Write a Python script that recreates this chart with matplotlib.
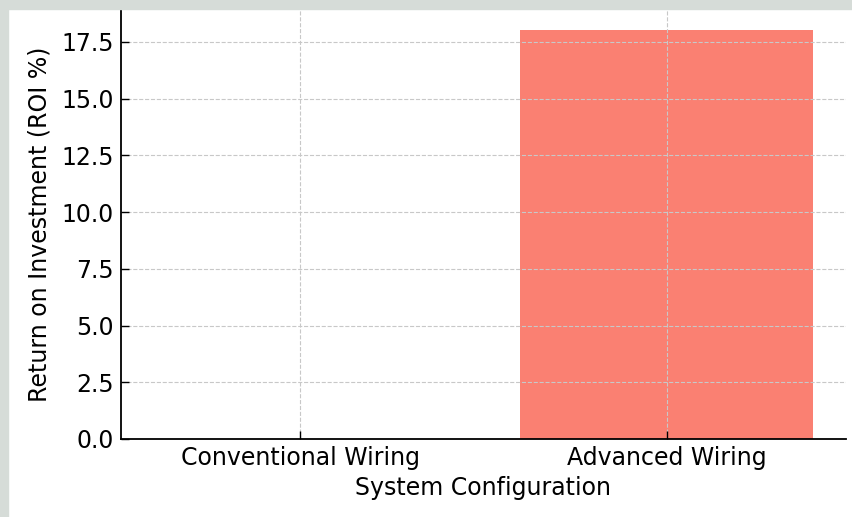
import matplotlib.pyplot as plt
from matplotlib.patches import Rectangle

# data
configs = ['Conventional Wiring', 'Advanced Wiring']
roi = [0.0, 18.0]

W, H = 853, 517
fig = plt.figure(figsize=(W / 100, H / 100), dpi=100)
fig.patch.set_facecolor('white')

# grey strips of the background showing at the top and left edges
bg = '#d6dcd8'
fig.patches.append(Rectangle((0, 0), 8 / W, 1, transform=fig.transFigure, color=bg, zorder=0))
fig.patches.append(Rectangle((0, 1 - 9 / H), 1, 9 / H, transform=fig.transFigure, color=bg, zorder=0))

ax = fig.add_axes([121 / W, (H - 439) / H, (846 - 121) / W, (439 - 10) / H])
ax.bar(configs, roi, color='salmon')

ax.set_xlabel('System Configuration', fontsize=17, labelpad=4)
ax.set_ylabel('Return on Investment (ROI %)', fontsize=17, labelpad=7)
ax.tick_params(axis='both', direction='in', labelsize=17, length=6, width=1)
ax.tick_params(axis='x', pad=5)
ax.tick_params(axis='y', pad=5)
ax.grid(True, linestyle='--', color='#c8c8c8', linewidth=0.8)

for s in ['top', 'right']:
    ax.spines[s].set_visible(False)
ax.spines['left'].set_linewidth(1.3)
ax.spines['bottom'].set_linewidth(1.3)

fig.savefig('out.png', dpi=100)
